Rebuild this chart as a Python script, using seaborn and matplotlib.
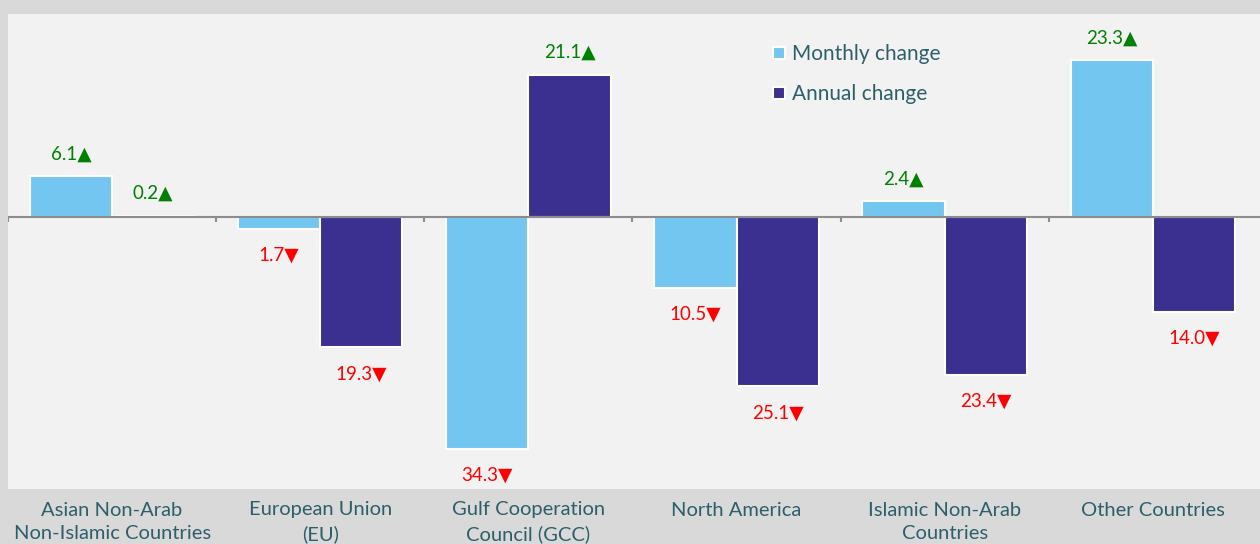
import matplotlib
matplotlib.use('Agg')
import matplotlib.pyplot as plt
from matplotlib import font_manager
import numpy as np
import pandas as pd
import seaborn as sns

categories = ['Asian Non-Arab\nNon-Islamic Countries', 'European Union\n(EU)',
              'Gulf Cooperation\nCouncil (GCC)', 'North America',
              'Islamic Non-Arab\nCountries', 'Other Countries']
series_names = ['Monthly change', 'Annual change']
monthly = [6.1, -1.7, -34.3, -10.5, 2.4, 23.3]
annual = [0.2, -19.3, 21.1, -25.1, -23.4, -14.0]

colors = ['#73c6ef', '#3b2f8f']
txt_color = '#2d5f6b'

sns.set_theme(style='white')
names = {f.name for f in font_manager.fontManager.ttflist}
base = 'Liberation Sans Narrow' if 'Liberation Sans Narrow' in names else 'Lato'
plt.rcParams['font.family'] = [base, 'DejaVu Sans']

df = pd.DataFrame({
    'category': categories * 2,
    'series': [series_names[0]] * len(categories) + [series_names[1]] * len(categories),
    'value': monthly + annual,
})

fig = plt.figure(figsize=(12.6, 5.44), dpi=100, facecolor='#d9d9d9')
ax = fig.add_axes([8 / 1260, 1 - 489 / 544, 1 - 8 / 1260, 475 / 544])
ax.set_facecolor('#f2f2f2')

sns.barplot(data=df, x='category', y='value', hue='series', palette=colors, saturation=1,
            width=0.79, edgecolor='white', linewidth=1.5, ax=ax, legend=True)

ax.set_xlim(-0.5, 5.515)
ax.set_ylim(-40.3, 30.1)
for s in ax.spines.values():
    s.set_visible(False)
ax.set_yticks([])
ax.set_xlabel('')
ax.set_ylabel('')
ax.tick_params(axis='x', length=0, pad=9, labelsize=14.5, labelcolor=txt_color)
for t in ax.get_xticklabels():
    t.set_linespacing(1.45)
    t.set_verticalalignment('top')

# zero line with category separators
ax.axhline(0, color='#8c8c8c', lw=1.5, zorder=3)
bounds = np.arange(len(categories)) - 0.5
ax.vlines(bounds, -0.7, 0, color='#8c8c8c', lw=1.5, zorder=3)

# value labels
for cont in ax.containers:
    for bar in cont:
        v = bar.get_height()
        x = bar.get_x() + bar.get_width() / 2
        if v >= 0:
            ax.annotate(f'{abs(v):.1f}\u25b2', (x, v), xytext=(0, 16), textcoords='offset points',
                        ha='center', va='center', color='#008000', fontsize=13.5)
        else:
            ax.annotate(f'{abs(v):.1f}\u25bc', (x, v), xytext=(0, -19), textcoords='offset points',
                        ha='center', va='center', color='#ff0000', fontsize=13.5)

leg = ax.legend(loc='upper left', bbox_to_anchor=(0.603, 0.958), frameon=False,
                handlelength=0.55, handleheight=0.55, handletextpad=0.35,
                labelspacing=0.95, borderpad=0, fontsize=15)
for t in leg.get_texts():
    t.set_color(txt_color)

fig.savefig('out.png', dpi=100, facecolor=fig.get_facecolor())
